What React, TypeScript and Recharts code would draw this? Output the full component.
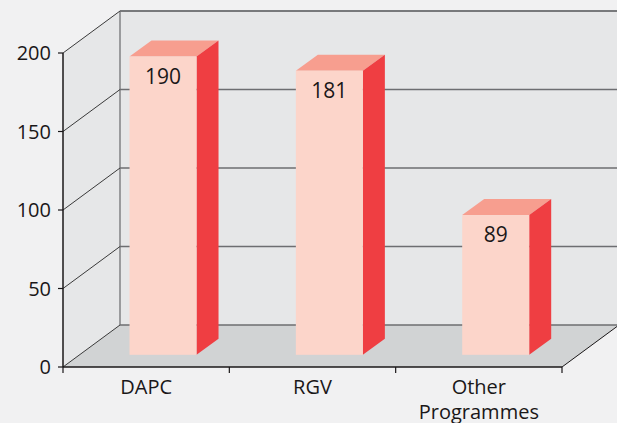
import { BarChart, Bar, XAxis, YAxis, CartesianGrid, ReferenceArea, LabelList } from 'recharts';

const categories = ['DAPC', 'RGV', 'Other Programmes'];
const values = [190, 181, 89];
const yTicks = [0, 50, 100, 150, 200];

const data = categories.map((name, i) => ({ name, value: values[i] }));

// 3D look: depth of the walls and of the bars
const DX = 57;
const DY = 42;
const BAR_POS = 0.29; // where the bar front sits inside the depth
const BDX = 22;
const BDY = 16;

const FONT = '"Open Sans", "Liberation Sans", sans-serif';
const INK = '#1a1718';

// side wall, back wall and floor, built from the area the y scale gives for 0..200
const Walls = (props: any) => {
  const { x, y, width, height } = props;
  const L = x;
  const R = x + width;
  const T = y;
  const B = y + height;
  return (
    <g>
      <polygon points={`${L},${T} ${L + DX},${T - DY} ${L + DX},${B - DY} ${L},${B}`} fill="#e6e7e8" />
      <polygon points={`${L + DX},${T - DY} ${R + DX},${T - DY} ${R + DX},${B - DY} ${L + DX},${B - DY}`} fill="#e6e7e8" />
      <polygon points={`${L},${B} ${R},${B} ${R + DX},${B - DY} ${L + DX},${B - DY}`} fill="#d1d3d4" />
      <line x1={L + DX} y1={T - DY} x2={L + DX} y2={B - DY} stroke="#808285" strokeWidth={1.5} />
      <line x1={L + DX} y1={T - DY} x2={R + DX} y2={T - DY} stroke="#808285" strokeWidth={1.5} />
      <line x1={R} y1={B} x2={R + DX} y2={B - DY} stroke={INK} strokeWidth={1} />
    </g>
  );
};

const GridLine = (props: any) => {
  const { x1, y1, x2, index } = props;
  return (
    <g key={`h-${index}`}>
      <line x1={x1} y1={y1} x2={x1 + DX} y2={y1 - DY} stroke="#3a3a3a" strokeWidth={1} />
      <line x1={x1 + DX} y1={y1 - DY} x2={x2 + DX} y2={y1 - DY} stroke="#6d6e71" strokeWidth={1.5} />
    </g>
  );
};

const Bar3D = (props: any) => {
  const { x, y, width, height } = props;
  const fx = x + BAR_POS * DX;
  const fy = y - BAR_POS * DY;
  const w = width;
  const h = height;
  return (
    <g>
      <polygon
        points={`${fx},${fy} ${fx + BDX},${fy - BDY} ${fx + w + BDX},${fy - BDY} ${fx + w},${fy}`}
        fill="#f79e8f"
      />
      <polygon
        points={`${fx + w},${fy} ${fx + w + BDX},${fy - BDY} ${fx + w + BDX},${fy + h - BDY} ${fx + w},${fy + h}`}
        fill="#ef3e42"
      />
      <rect x={fx} y={fy} width={w} height={h} fill="#fcd5ca" />
    </g>
  );
};

const BarLabel = (props: any) => {
  const { x, y, width, value } = props;
  return (
    <text
      x={x + BAR_POS * DX + width / 2}
      y={y - BAR_POS * DY + 27}
      textAnchor="middle"
      fontSize={21}
      fontFamily={FONT}
      fill={INK}
    >
      {value}
    </text>
  );
};

const CategoryTick = (props: any) => {
  const { x, y, payload, index } = props;
  const half = payload?.offset ?? 83;
  const axisY = y - 6;
  const words = String(payload.value).split(' ');
  return (
    <g>
      <line x1={x - half} y1={axisY} x2={x - half} y2={axisY + 6} stroke={INK} strokeWidth={1.2} />
      {index === categories.length - 1 && (
        <line x1={x + half} y1={axisY} x2={x + half} y2={axisY + 6} stroke={INK} strokeWidth={1.2} />
      )}
      {words.map((wd, i) => (
        <text
          key={wd}
          x={x}
          y={axisY + 27 + i * 25}
          textAnchor="middle"
          fontSize={20}
          fontFamily={FONT}
          fill={INK}
        >
          {wd}
        </text>
      ))}
    </g>
  );
};

export default function App() {
  return (
    <div style={{ position: 'absolute', left: 0, top: 0, width: 617, height: 423, background: '#f1f1f2', overflow: 'hidden' }}>
      <BarChart
        width={617}
        height={423}
        data={data}
        margin={{ top: 53, right: 55, left: 0, bottom: 0 }}
        barCategoryGap={0}
      >
        <ReferenceArea y1={0} y2={200} shape={<Walls />} zIndex={-200} ifOverflow="visible" />
        <CartesianGrid vertical={false} horizontal={GridLine as any} />
        <XAxis
          dataKey="name"
          height={56}
          tickLine={false}
          tickSize={6}
          tickMargin={0}
          interval={0}
          axisLine={{ stroke: INK, strokeWidth: 1.5 }}
          tick={<CategoryTick />}
        />
        <YAxis
          width={63}
          domain={[0, 200]}
          ticks={yTicks}
          interval={0}
          tickSize={5}
          tickMargin={7}
          axisLine={{ stroke: INK, strokeWidth: 1.5 }}
          tickLine={{ stroke: INK, strokeWidth: 1.2 }}
          tick={{ fontSize: 20, fontFamily: FONT, fill: INK }}
        />
        <Bar dataKey="value" barSize={67} shape={<Bar3D />} isAnimationActive={false}>
          <LabelList dataKey="value" content={<BarLabel />} />
        </Bar>
      </BarChart>
    </div>
  );
}
